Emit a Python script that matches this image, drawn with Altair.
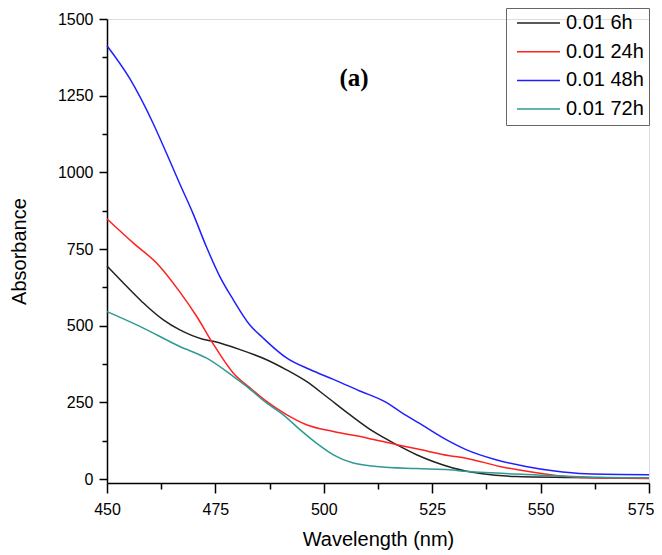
import altair as alt
import pandas as pd

# ---- data ----
w6 = [450, 456.1, 458.4, 463, 466.7, 472.1, 474.5, 480.7, 486.8, 491.4, 496, 500.6, 506, 511.4, 516.8, 521.4, 525.2, 529.8, 536.6, 544.3, 556, 575]
a6 = [695, 606, 574, 519, 487, 456, 449, 422, 389, 356, 318, 269, 210, 155, 112, 79, 57, 36, 17, 8, 5, 3]

w24 = [450, 456.1, 461.8, 466.7, 470.7, 474.3, 479.1, 483, 486.8, 491.4, 496, 502.2, 509.9, 516.8, 522.2, 529, 532.8, 540.6, 548.3, 556, 563.5, 575]
a24 = [848, 769, 699, 612, 530, 445, 346, 297, 253, 210, 177, 155, 134, 112, 96, 76, 68, 41, 22, 8, 3, 2]

w48 = [450, 455.2, 460.6, 463.7, 466.7, 469.8, 472.9, 476, 479.1, 482.9, 486, 487.2, 491.4, 496.8, 502.2, 508.3, 514.5, 517.6, 522, 527.5, 532.8, 539.7, 546.6, 552.8, 560.5, 575]
a48 = [1413, 1307, 1161, 1063, 965, 867, 758, 661, 585, 503, 460, 444, 395, 357, 325, 287, 249, 220, 182, 134, 96, 63, 41, 27, 17, 14]

w72 = [450, 457.7, 466.8, 473, 479.1, 482.2, 486.8, 490.6, 494.5, 498.3, 502.2, 506.8, 512.2, 521.4, 529, 532.8, 548.3, 563.5, 575]
a72 = [546, 497, 432, 394, 335, 302, 248, 210, 161, 117, 79, 52, 41, 34, 30, 25, 14, 6, 4]

series_names = ["0.01 6h", "0.01 24h", "0.01 48h", "0.01 72h"]
series_colors = ["#222222", "#ff2020", "#2020ff", "#2f9a94"]

x_major = [450, 475, 500, 525, 550, 575]
x_minor = [462.5, 487.5, 512.5, 537.5, 562.5]
y_major = [0, 250, 500, 750, 1000, 1250, 1500]
y_minor = [125, 375, 625, 875, 1125, 1375]

rows = []
for name, ws, vs in zip(series_names, [w6, w24, w48, w72], [a6, a24, a48, a72]):
    for w, v in zip(ws, vs):
        rows.append({"wavelength": w, "absorbance": v, "series": name})
df = pd.DataFrame(rows)

FONT = "Liberation Sans"
xscale = alt.Scale(domain=[450, 575], nice=False, zero=False)
yscale = alt.Scale(domain=[-13, 1500], nice=False, zero=False)

lines = alt.Chart(df).mark_line(strokeWidth=1.5, interpolate="monotone").encode(
    x=alt.X("wavelength:Q", scale=xscale,
            axis=alt.Axis(values=x_major, title="Wavelength (nm)", orient="bottom",
                          ticks=True, tickSize=10, tickWidth=1.5, tickColor="black",
                          domainColor="black", domainWidth=1.5, labelFlush=False,
                          labelAlign=alt.ExprRef(expr="datum.value == 575 ? 'right' : 'center'"),
                          labelOffset=alt.ExprRef(expr="datum.value == 575 ? 5 : 0"),
                          labelFont=FONT, labelFontSize=16, labelColor="black", labelPadding=8,
                          titleFont=FONT, titleFontSize=20, titleFontWeight="normal",
                          titleColor="black", titlePadding=12, grid=False)),
    y=alt.Y("absorbance:Q", scale=yscale,
            axis=alt.Axis(values=y_major, title="Absorbance", orient="left", format="d",
                          ticks=True, tickSize=8, tickWidth=1.5, tickColor="black",
                          domainColor="black", domainWidth=1.5, labelFlush=False,
                          labelFont=FONT, labelFontSize=16, labelColor="black", labelPadding=6,
                          titleFont=FONT, titleFontSize=20, titleFontWeight="normal",
                          titleColor="black", titlePadding=28, grid=False)),
    color=alt.Color("series:N", sort=series_names,
                    scale=alt.Scale(domain=series_names, range=series_colors),
                    legend=alt.Legend(orient="none", legendX=399, legendY=-11, title=None,
                                      symbolType="stroke", symbolSize=1849, clipHeight=20,
                                      symbolOffset=5, symbolStrokeWidth=1.5,
                                      labelFont=FONT, labelFontSize=20,
                                      labelColor="black", labelOffset=5, rowPadding=8.7,
                                      padding=5, strokeColor="#666666")),
)

minor = alt.Chart(df).mark_point(opacity=0).encode(
    x=alt.X("wavelength:Q", scale=xscale,
            axis=alt.Axis(values=x_minor, orient="bottom", labels=False, domain=False,
                          ticks=True, tickSize=6, tickWidth=1.5, tickColor="black",
                          title=None, grid=False)),
    y=alt.Y("absorbance:Q", scale=yscale,
            axis=alt.Axis(values=y_minor, orient="left", labels=False, domain=False,
                          ticks=True, tickSize=5, tickWidth=1.5, tickColor="black",
                          title=None, grid=False)),
)

label = alt.Chart(pd.DataFrame({"t": ["(a)"]})).mark_text(
    font="Liberation Serif", fontSize=25, fontWeight="bold", color="black",
    align="center", baseline="middle",
).encode(text="t:N", x=alt.value(247), y=alt.value(59))

chart = alt.layer(lines, minor, label).resolve_scale(
    x="independent", y="independent"
).properties(
    width=542, height=464,
    autosize=alt.AutoSizeParams(type="none"),
    padding={"left": 99, "top": 11, "right": 5, "bottom": 70},
).configure_view(stroke=None).configure(background="white")

chart.save("out.html", embed_options={"renderer": "svg", "actions": False})
